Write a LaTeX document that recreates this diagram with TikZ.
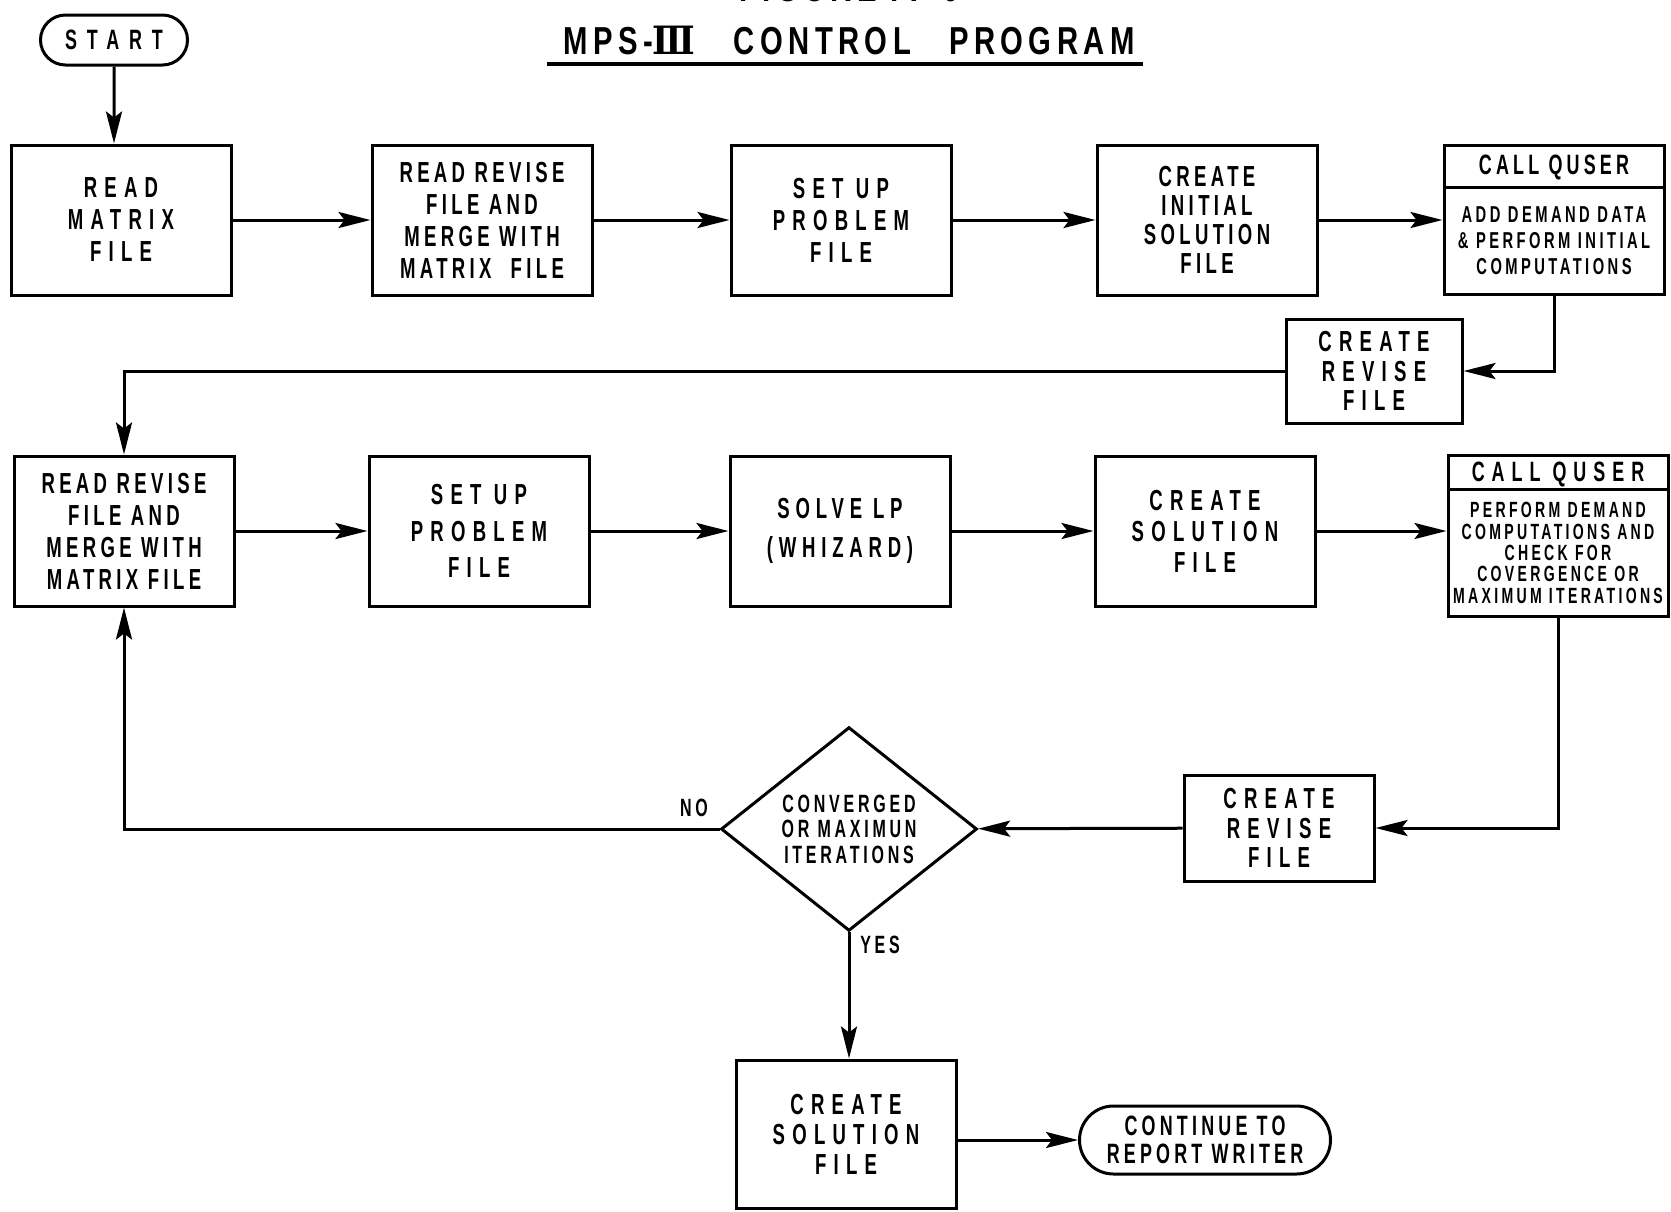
\documentclass[tikz,border=0pt]{standalone}
\usepackage{fontspec}
\usetikzlibrary{arrows.meta,shapes.geometric,shapes.misc}
\newfontfamily\boxfont{Liberation Sans}[FakeStretch=0.64,LetterSpace=15]
\newfontfamily\titlefont{Liberation Sans}[FakeStretch=0.75,LetterSpace=14]
\newfontfamily\numfont{DejaVu Serif}[FakeStretch=0.9]

\begin{document}
\begin{tikzpicture}[x=0.5pt, y=-0.5pt, line width=1.5pt,
    stepbox/.style={rectangle, draw, align=center, inner sep=0pt, minimum width=110pt, minimum height=75pt, font=\boxfont\bfseries\fontsize{14.5}{16}\selectfont},
    revbox/.style={stepbox, minimum width=88pt, minimum height=52pt, font=\boxfont\bfseries\fontsize{14.5}{14.6}\selectfont},
    quserbox/.style={rectangle, draw, inner sep=0pt, minimum width=110pt},
    qhead/.style={inner sep=0pt, font=\boxfont\bfseries\fontsize{14}{15}\selectfont},
    qtext/.style={align=center, inner sep=0pt, font=\boxfont\bfseries\fontsize{11.5}{13}\selectfont},
    terminal/.style={rounded rectangle, draw, align=center, inner sep=0pt, font=\boxfont\bfseries\fontsize{14}{14}\selectfont},
    decision/.style={diamond, draw, align=center, inner sep=0pt, minimum width=128pt, minimum height=93pt, font=\boxfont\bfseries\fontsize{12.5}{12.8}\selectfont},
    lbl/.style={inner sep=0pt, font=\boxfont\bfseries\fontsize{12.5}{14}\selectfont},
    arr/.style={-{Stealth[length=16pt,width=8pt,inset=3pt]}}]
    \useasboundingbox (0,0) rectangle (1671,1211);

    % Titel
    \node (fig) [anchor=base, font=\titlefont\bfseries\fontsize{19.5}{22}\selectfont] at (849,1) {FIGURE IV-6};
    \node (title) [anchor=base, font=\titlefont\bfseries\fontsize{19.5}{22}\selectfont] at (849,54) {MPS-{\numfont\bfseries Ⅲ}\hspace{19pt}CONTROL\hspace{19pt}PROGRAM};
    \draw[line width=1.8pt] (547,64) -- (1143,64);

    \node (start) [terminal, minimum width=73.5pt, minimum height=25pt] at (114,40) {\addfontfeatures{LetterSpace=35}START};

    % erste Reihe
    \node (readmat) [stepbox] at (121,220) {\addfontfeatures{LetterSpace=25}READ\\ \addfontfeatures{LetterSpace=25}MATRIX\\ \addfontfeatures{LetterSpace=25}FILE};
    \node (readrev) [stepbox] at (482,220) {READ REVISE\\ FILE AND\\ MERGE WITH\\ MATRIX\ \ FILE};
    \node (setup) [stepbox] at (841,220) {\addfontfeatures{LetterSpace=25}SET UP\\ \addfontfeatures{LetterSpace=25}PROBLEM\\ \addfontfeatures{LetterSpace=25}FILE};
    \node (initsol) [stepbox, font=\boxfont\bfseries\fontsize{14.5}{14.6}\selectfont] at (1207,220) {CREATE\\ INITIAL\\ SOLUTION\\ FILE};
    \node (quser) [quserbox, minimum height=74.5pt] at (1554,220) {};
    \node (quserhead) [qhead] at (1554,167) {CALL QUSER};
    \node (quserbody) [qtext] at (1554,241) {ADD DEMAND DATA\\ \& PERFORM INITIAL\\ COMPUTATIONS};
    \draw ([yshift=-21.5pt]quser.north west) -- ([yshift=-21.5pt]quser.north east);
    \node (revise) [revbox] at (1374,371) {\addfontfeatures{LetterSpace=25}CREATE\\ \addfontfeatures{LetterSpace=25}REVISE\\ \addfontfeatures{LetterSpace=25}FILE};

    % zweite Reihe
    \node (readrev2) [stepbox] at (124,531) {READ REVISE\\ FILE AND\\ MERGE WITH\\ MATRIX FILE};
    \node (setup2) [stepbox, font=\boxfont\bfseries\fontsize{14.5}{18.4}\selectfont] at (479,531) {\addfontfeatures{LetterSpace=25}SET UP\\ \addfontfeatures{LetterSpace=25}PROBLEM\\ \addfontfeatures{LetterSpace=25}FILE};
    \node (solve) [stepbox, font=\boxfont\bfseries\fontsize{14.5}{19.5}\selectfont] at (840,531) {\addfontfeatures{LetterSpace=20}SOLVE LP\\ \addfontfeatures{LetterSpace=20}(WHIZARD)};
    \node (solfile) [stepbox, font=\boxfont\bfseries\fontsize{14.5}{15.5}\selectfont] at (1205,531) {\addfontfeatures{LetterSpace=25}CREATE\\ \addfontfeatures{LetterSpace=25}SOLUTION\\ \addfontfeatures{LetterSpace=25}FILE};
    \node (quser2) [quserbox, minimum height=80.5pt] at (1558,536) {};
    \node (quser2head) [qhead] at (1558,474) {\addfontfeatures{LetterSpace=25}CALL QUSER};
    \node (quser2body) [qtext, font=\boxfont\bfseries\fontsize{11}{10.7}\selectfont] at (1558,553) {PERFORM DEMAND\\ COMPUTATIONS AND\\ CHECK FOR\\ COVERGENCE OR\\ MAXIMUM ITERATIONS};
    \draw ([yshift=-17.5pt]quser2.north west) -- ([yshift=-17.5pt]quser2.north east);

    % Schleife
    \node (revise2) [revbox, minimum width=95pt, minimum height=53pt] at (1279,828) {\addfontfeatures{LetterSpace=25}CREATE\\ \addfontfeatures{LetterSpace=25}REVISE\\ \addfontfeatures{LetterSpace=25}FILE};
    \node (conv) [decision] at (849,829) {CONVERGED\\ OR MAXIMUN\\ ITERATIONS};
    \node (no) [lbl] at (694,808) {NO};
    \node (yes) [lbl] at (880,945) {YES};
    \node (finalsol) [stepbox, minimum height=74pt, font=\boxfont\bfseries\fontsize{14.5}{15}\selectfont] at (846,1134) {\addfontfeatures{LetterSpace=25}CREATE\\ \addfontfeatures{LetterSpace=25}SOLUTION\\ \addfontfeatures{LetterSpace=25}FILE};
    \node (cont) [terminal, minimum width=125.5pt, minimum height=34pt] at (1205,1140) {CONTINUE TO\\ REPORT WRITER};

    % Pfeile
    \draw[arr] (start) -- (start |- readmat.north);
    \draw[arr] (readmat) -- (readrev);
    \draw[arr] (readrev) -- (setup);
    \draw[arr] (setup) -- (initsol);
    \draw[arr] (initsol) -- (initsol -| quser.west);
    \draw[arr] (quser.south) |- (revise.east);
    \draw[arr] (revise.west) -| (readrev2.north);
    \draw[arr] (readrev2) -- (setup2);
    \draw[arr] (setup2) -- (solve);
    \draw[arr] (solve) -- (solfile);
    \draw[arr] (solfile) -- (solfile -| quser2.west);
    \draw[arr] (quser2.south) |- (revise2.east);
    \draw[arr] (revise2) -- (conv);
    \draw[arr] (conv.west) -| (readrev2.south);
    \draw[arr] (conv.south) -- (conv.south |- finalsol.north);
    \draw[arr] (finalsol.east |- cont.west) -- (cont.west);
\end{tikzpicture}
\end{document}
